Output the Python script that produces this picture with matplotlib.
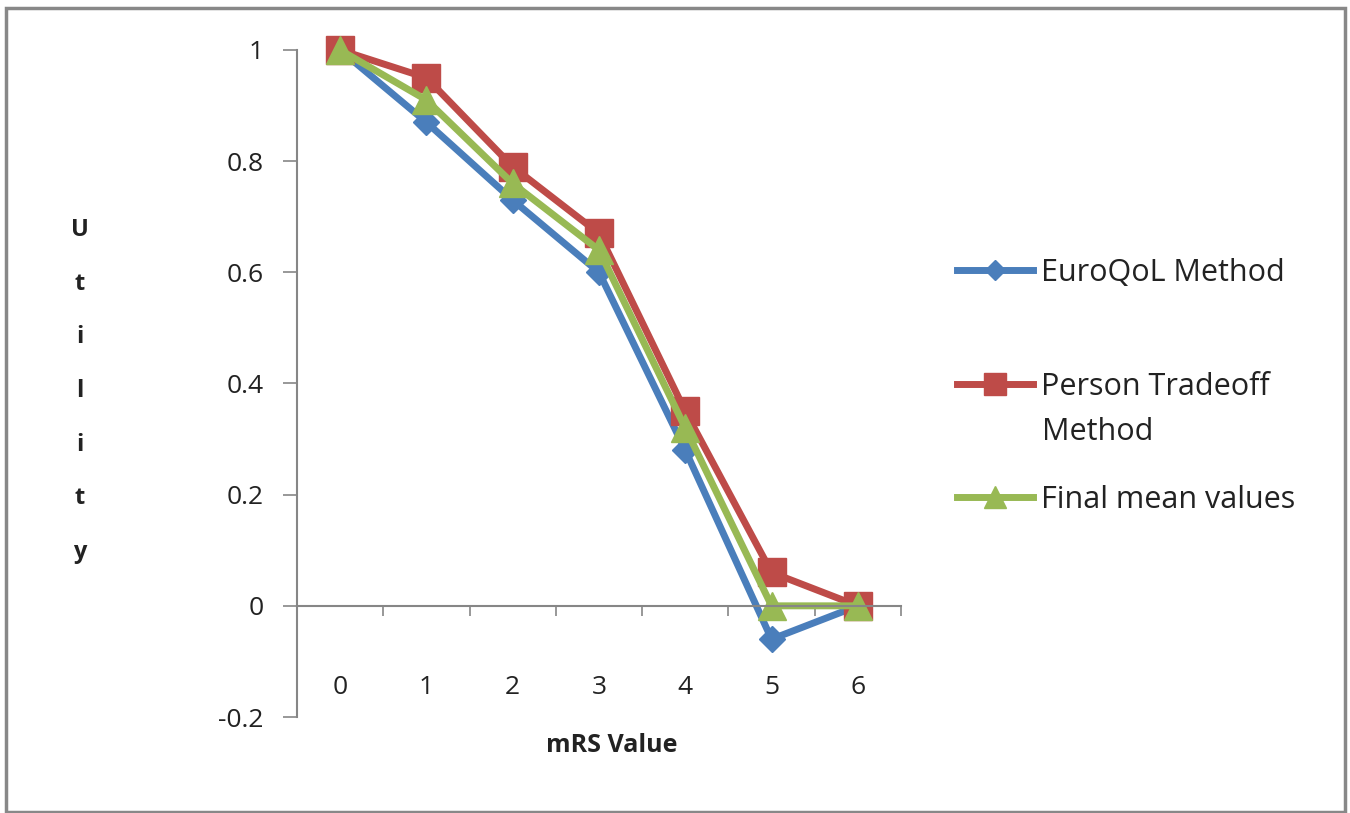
import matplotlib
matplotlib.use("Agg")
import matplotlib.pyplot as plt
from matplotlib.patches import Rectangle

# mRS categories and utility values
mrs = ["0", "1", "2", "3", "4", "5", "6"]
euroqol = [1.0, 0.87, 0.73, 0.60, 0.28, -0.06, 0.0]
person_tradeoff = [1.0, 0.95, 0.79, 0.67, 0.35, 0.06, 0.0]
final_mean = [1.0, 0.91, 0.76, 0.64, 0.32, 0.0, 0.0]
series_names = ["EuroQoL Method", "Person Tradeoff\nMethod", "Final mean values"]
y_ticks = [-0.2, 0, 0.2, 0.4, 0.6, 0.8, 1]
y_ticklabels = ["-0.2", "0", "0.2", "0.4", "0.6", "0.8", "1"]

plt.rcParams['font.family'] = ['Open Sans', 'DejaVu Sans']

W, H = 1350, 813
fig = plt.figure(figsize=(W / 100, H / 100), dpi=100)
ax = fig.add_axes([297 / W, 1 - 717 / H, (901 - 297) / W, (717 - 50) / H])

grey = "#868686"
txt = "#222222"
styles = [
    dict(color="#4A7EBB", marker="D", markersize=13),
    dict(color="#BE4B48", marker="s", markersize=20),
    dict(color="#98B954", marker="^", markersize=20),
]
x = list(range(len(mrs)))
lines = []
for vals, st in zip([euroqol, person_tradeoff, final_mean], styles):
    ln, = ax.plot(x, vals, lw=5, color=st["color"], marker=st["marker"],
                  markersize=st["markersize"], markerfacecolor=st["color"],
                  markeredgecolor=st["color"], clip_on=False)
    lines.append(ln)

ax.set_xlim(-0.5, len(mrs) - 0.5)
ax.set_ylim(-0.2, 1.0)
ax.set_yticks(y_ticks)
ax.set_yticklabels(y_ticklabels)
ax.set_xticks(x)
ax.set_xticklabels(mrs)
ax.set_xticks([i + 0.5 for i in x], minor=True)

for s in ["top", "right"]:
    ax.spines[s].set_visible(False)
ax.spines["bottom"].set_position(("data", 0))
ax.spines["bottom"].set_color(grey)
ax.spines["bottom"].set_linewidth(1.5)
ax.spines["left"].set_color(grey)
ax.spines["left"].set_linewidth(1.5)

ax.tick_params(axis="y", direction="out", length=10, width=1.2, color=grey,
               pad=14, labelsize=19, labelcolor=txt)
ax.tick_params(axis="x", which="major", length=0, pad=50, labelsize=19, labelcolor=txt)
ax.tick_params(axis="x", which="minor", direction="out", length=7, width=1.2, color=grey)

fig.text(80 / W, 1 - 391 / H, "U\nt\ni\nl\ni\nt\ny", ha="center", va="center",
         fontsize=17, fontweight="bold", linespacing=2.65, color=txt)
fig.text(612 / W, 1 - 745 / H, "mRS Value", ha="center", va="center",
         fontsize=18, fontweight="bold", color=txt)

# legend, one entry per series, placed like the original
legend_y = [273, 387, 500]
for ln, name, ly in zip(lines, series_names, legend_y):
    first, *rest = name.split("\n")
    leg = fig.legend([ln], [first], loc="center left",
                     bbox_to_anchor=(957 / W, 1 - ly / H), frameon=False,
                     fontsize=22, handlelength=2.5, handletextpad=0.25,
                     markerscale=0.8, borderpad=0, borderaxespad=0)
    for t in leg.get_texts():
        t.set_color(txt)
    if rest:
        fig.text(1042 / W, 1 - (ly + 45) / H, "\n".join(rest), ha="left",
                 va="center", fontsize=22, color=txt)

fig.patches.append(Rectangle((6 / W, 1 / H), (1345 - 6) / W, (812 - 8) / H,
                             transform=fig.transFigure, fill=False,
                             edgecolor="#888888", linewidth=2.5))

fig.savefig("out.png", dpi=100)
